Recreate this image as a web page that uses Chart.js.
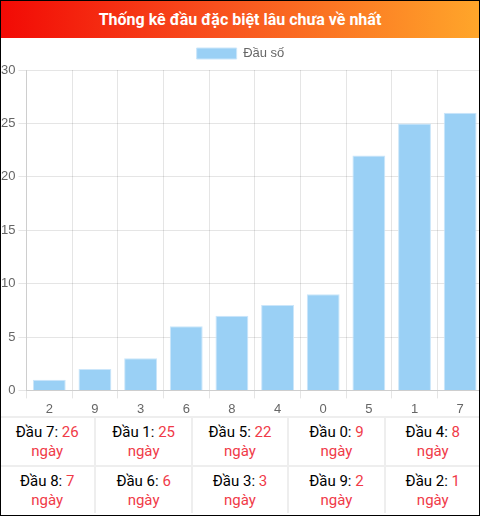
<!DOCTYPE html>
<html>
<head>
<meta charset="utf-8">
<script src="https://cdn.jsdelivr.net/npm/chart.js@4"></script>
<style>
  html, body { margin: 0; padding: 0; background: #fff; }
  #wrap { width: 480px; height: 516px; border: 1px solid #000; box-sizing: border-box; overflow: hidden; position: relative; }
  #head { height: 37px; background: linear-gradient(to right, #f20a05, #f8501e 45%, #ffa62a); color: #fff;
          font: bold 16px Roboto, sans-serif; text-align: center; line-height: 37px; }
  #chartBox { position: relative; width: 485px; height: 383px; margin-left: -3px; margin-top: -1px; }
  #grid { position: relative; z-index: 2; display: grid; grid-template-columns: repeat(5, 1fr); grid-template-rows: 47px 46px; gap: 2px;
          background: #eeeeee; padding-top: 2px; margin-left: -1px; margin-right: -1px; margin-top: -4px; }
  .cell { background: #fff; text-align: center; font: 15px Roboto, sans-serif; line-height: 19px; padding-top: 5px; color: #000; }
  .red { color: #f03a48; }
</style>
</head>
<body>
<div id="wrap">
  <div id="head">Thống kê đầu đặc biệt lâu chưa về nhất</div>
  <div id="chartBox"><canvas id="c"></canvas></div>
  <div id="grid"></div>
</div>
<script>
const categories = ["2", "9", "3", "6", "8", "4", "0", "5", "1", "7"];
const days = [1, 2, 3, 6, 7, 8, 9, 22, 25, 26];
const seriesLabel = "Đầu số";
const yTicks = { min: 0, max: 30, step: 5 };

const grid = document.getElementById('grid');
const order = categories.map((c, i) => ({ c, v: days[i] })).reverse();
order.forEach(o => {
  const d = document.createElement('div');
  d.className = 'cell';
  d.innerHTML = 'Đầu ' + o.c + ': <span class="red">' + o.v + '</span><br><span class="red">ngày</span>';
  grid.appendChild(d);
});

Chart.defaults.font.size = 13;
new Chart(document.getElementById('c'), {
  type: 'bar',
  data: {
    labels: categories,
    datasets: [{
      label: seriesLabel,
      data: days,
      backgroundColor: '#9ad0f5',
      borderColor: '#cbe6fa',
      borderWidth: 1
    }]
  },
  options: {
    responsive: true,
    maintainAspectRatio: false,
    animation: false,
    plugins: { legend: { display: true, labels: { boxWidth: 40, boxHeight: 11 } } },
    scales: {
      y: { min: yTicks.min, max: yTicks.max, ticks: { stepSize: yTicks.step } },
      x: {}
    }
  }
});
</script>
</body>
</html>
